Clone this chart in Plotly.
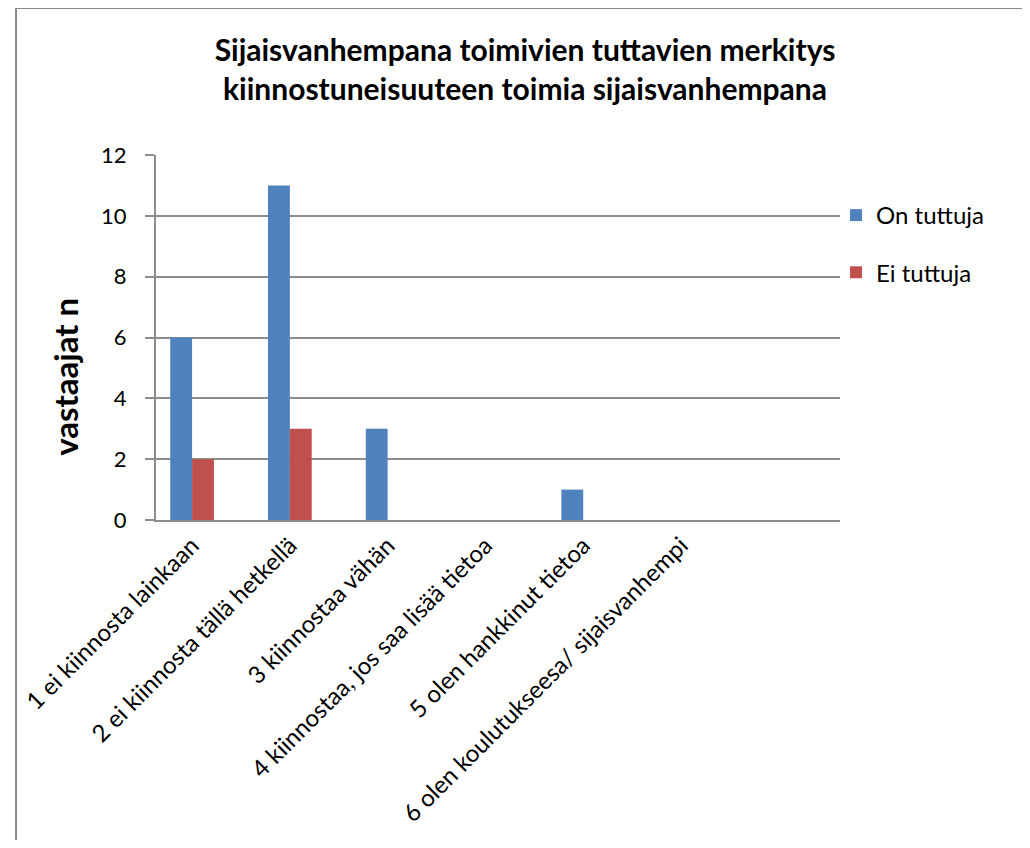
import plotly.graph_objects as go

categories = [
    "1 ei kiinnosta lainkaan",
    "2 ei kiinnosta tällä hetkellä",
    "3 kiinnostaa vähän",
    "4 kiinnostaa, jos saa lisää tietoa",
    "5 olen hankkinut tietoa",
    "6 olen koulutukseesa/ sijaisvanhempi",
]
on_tuttuja = [6, 11, 3, 0, 1, 0]
ei_tuttuja = [2, 3, 0, 0, 0, 0]
series_names = ["On tuttuja", "Ei tuttuja"]
y_ticks = [0, 2, 4, 6, 8, 10, 12]
title_text = "Sijaisvanhempana toimivien tuttavien merkitys<br>kiinnostuneisuuteen toimia sijaisvanhempana"
y_title = "vastaajat n"

FONT = "Lato"
OFF = 8  # page body margin
W, H = 1030 - 2 * OFF, 848 - 2 * OFF
# plot area in screen pixels (reference)
L, R, T, B = 151, 840, 155, 520
fl, fr, ft, fb = L - OFF, R - OFF, T - OFF, B - OFF

pw = fr - fl
ph = fb - ft
def sx(px):
    return (px - OFF - fl) / pw
def sy(py):
    return (fb - (py - OFF)) / ph

fig = go.Figure()
fig.add_trace(go.Bar(x=categories, y=on_tuttuja, name=series_names[0],
                     marker=dict(color="#4F81BD", line=dict(width=0)),
                     legendgroup="a"))
fig.add_trace(go.Bar(x=categories, y=ei_tuttuja, name=series_names[1],
                     marker=dict(color="#C0504D", line=dict(width=0)),
                     legendgroup="b"))

fig.update_layout(
    width=W, height=H,
    margin=dict(l=fl, r=W - fr, t=ft, b=H - fb, pad=0),
    paper_bgcolor="white", plot_bgcolor="white",
    barmode="group", bargap=0.553, bargroupgap=0,
    font=dict(family=FONT, color="#000000", size=24),
    title=dict(text="<b>" + title_text + "</b>", xref="container", yref="container",
               x=(525 - OFF) / W, y=1 - (61 - OFF) / H, xanchor="center", yanchor="middle",
               font=dict(family=FONT, size=30, color="#000000")),
    legend=dict(x=sx(836), y=sy(193), xanchor="left", yanchor="top",
                font=dict(family=FONT, size=24, color="#000000"),
                traceorder="grouped", tracegroupgap=23, bgcolor="rgba(0,0,0,0)"),
    showlegend=True,
)
fig.update_xaxes(
    type="category", range=[-0.369, 6.626],
    showgrid=False, showline=True, linecolor="#8c8c8c", linewidth=2,
    ticks="", tickangle=-45, tickfont=dict(family=FONT, size=24, color="#000000"),
    zeroline=False,
)
fig.update_yaxes(
    range=[0, 12], tickvals=y_ticks, showgrid=True, gridcolor="#8c8c8c", gridwidth=1.5,
    showline=True, linecolor="#8c8c8c", linewidth=2, ticks="outside", ticklen=9,
    tickcolor="#8c8c8c", tickwidth=1.5, ticklabelstandoff=14,
    tickfont=dict(family=FONT, size=22, color="#000000"),
    zeroline=False,
)
# y-axis title (placed off-centre as in the reference)
fig.add_annotation(text="<b>" + y_title + "</b>", textangle=-90,
                   xref="paper", yref="paper", x=sx(59), y=sy(377),
                   xanchor="center", yanchor="middle", showarrow=False,
                   font=dict(family=FONT, size=33, color="#000000"))
# chart-area frame (left and top edges visible)
fig.add_shape(type="line", xref="paper", yref="paper",
              x0=sx(10), x1=sx(10), y0=sy(8), y1=sy(900),
              line=dict(color="#8a8a8a", width=2), layer="below")
fig.add_shape(type="line", xref="paper", yref="paper",
              x0=sx(9), x1=sx(1100), y0=sy(8), y1=sy(8),
              line=dict(color="#8a8a8a", width=2), layer="below")

fig.write_html("out.html")
